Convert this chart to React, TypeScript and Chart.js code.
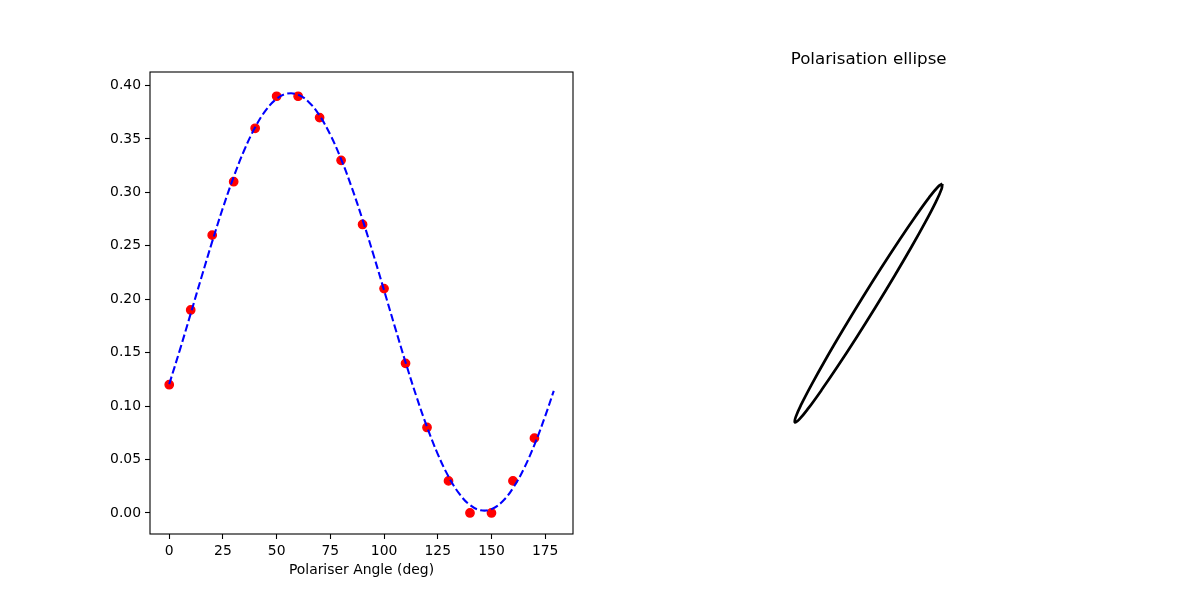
import { useEffect, useRef } from 'react';
import { Chart, registerables } from 'chart.js';

Chart.register(...registerables);
Chart.defaults.font.family = '"DejaVu Sans", sans-serif';
Chart.defaults.color = '#000';

// measured intensities
const angles = [0, 10, 20, 30, 40, 50, 60, 70, 80, 90, 100, 110, 120, 130, 140, 150, 160, 170];
const intensity = [0.12, 0.19, 0.26, 0.31, 0.36, 0.39, 0.39, 0.37, 0.33, 0.27, 0.21, 0.14, 0.08, 0.03, 0.0, 0.0, 0.03, 0.07];

// fitted curve (dashed)
const fitAngles = [
  0, 5, 10, 15, 20, 25, 30, 35, 40, 45, 50, 55, 60, 65, 70, 75, 80, 85, 90,
  95, 100, 105, 110, 115, 120, 125, 130, 135, 140, 145, 150, 155, 160, 165, 170, 175, 179,
];
const fitIntensity = [
  0.1206, 0.1529, 0.1866, 0.2206, 0.2539, 0.2856, 0.3145, 0.3399, 0.3609, 0.377, 0.3876, 0.3925,
  0.3914, 0.3845, 0.3718, 0.3539, 0.3312, 0.3044, 0.2744, 0.2421, 0.2084, 0.1744, 0.1411, 0.1094,
  0.0805, 0.0551, 0.0341, 0.018, 0.0074, 0.0025, 0.0036, 0.0105, 0.0232, 0.0411, 0.0638, 0.0906, 0.1143,
];

const xTicks = [0, 25, 50, 75, 100, 125, 150, 175];
const yTicks = [0, 0.05, 0.1, 0.15, 0.2, 0.25, 0.3, 0.35, 0.4];

// polarisation ellipse outline
const ellipseX = [
  0.3487, 0.3284, 0.2858, 0.2238, 0.1464, 0.059, -0.0323, -0.1214, -0.2024, -0.2694, -0.3182, -0.3452,
  -0.3487, -0.3284, -0.2858, -0.2238, -0.1464, -0.059, 0.0323, 0.1214, 0.2024, 0.2694, 0.3182, 0.3452, 0.3487,
];
const ellipseY = [
  0.5642, 0.5502, 0.4986, 0.413, 0.2994, 0.1653, 0.02, -0.1267, -0.2648, -0.3848, -0.4786, -0.5398,
  -0.5642, -0.5502, -0.4986, -0.413, -0.2994, -0.1653, -0.02, 0.1267, 0.2648, 0.3848, 0.4786, 0.5398, 0.5642,
];

const boxPlugin = {
  id: 'box',
  afterDraw(chart: Chart) {
    const { ctx, chartArea: a } = chart;
    ctx.save();
    ctx.strokeStyle = '#000';
    ctx.lineWidth = 1.1;
    ctx.strokeRect(a.left, a.top, a.right - a.left, a.bottom - a.top);
    ctx.restore();
  },
};

function IntensityChart() {
  const canvasRef = useRef<HTMLCanvasElement>(null);
  const chartRef = useRef<Chart | null>(null);

  useEffect(() => {
    if (!canvasRef.current) return;
    chartRef.current?.destroy();

    const tickFont = { size: 13.9 };

    chartRef.current = new Chart(canvasRef.current, {
      type: 'scatter',
      data: {
        datasets: [
          {
            label: 'fit',
            data: fitAngles.map((a, i) => ({ x: a, y: fitIntensity[i] })),
            showLine: true,
            borderColor: '#0000ff',
            borderWidth: 2.08,
            borderDash: [7.7, 3.3],
            pointRadius: 0,
            tension: 0.4,
          },
          {
            label: 'data',
            data: angles.map((a, i) => ({ x: a, y: intensity[i] })),
            backgroundColor: '#ff0000',
            borderColor: '#ff0000',
            borderWidth: 1.39,
            pointRadius: 4.17,
          },
        ],
      },
      options: {
        responsive: false,
        animation: false,
        layout: { padding: { left: 100, right: 27, top: 72, bottom: 0 } },
        plugins: { legend: { display: false }, tooltip: { enabled: false } },
        scales: {
          x: {
            type: 'linear',
            min: -8.95,
            max: 187.95,
            afterBuildTicks: (s) => {
              s.ticks = xTicks.map((v) => ({ value: v }));
            },
            afterFit: (s) => {
              s.height = 66;
            },
            ticks: { font: tickFont, padding: 4, maxRotation: 0, callback: (v) => String(v) },
            grid: { drawOnChartArea: false, tickLength: 5, tickColor: '#000', tickWidth: 1.1 },
            border: { display: false },
            title: {
              display: true,
              text: 'Polariser Angle (deg)',
              font: { size: 13.9 },
              padding: { top: 0, bottom: 21 },
            },
          },
          y: {
            type: 'linear',
            min: -0.0197,
            max: 0.4127,
            afterBuildTicks: (s) => {
              s.ticks = yTicks.map((v) => ({ value: v }));
            },
            afterFit: (s) => {
              s.width = 50;
            },
            ticks: { font: tickFont, padding: 4, callback: (v) => Number(v).toFixed(2) },
            grid: { drawOnChartArea: false, tickLength: 5, tickColor: '#000', tickWidth: 1.1 },
            border: { display: false },
          },
        },
      },
      plugins: [boxPlugin],
    });

    return () => {
      chartRef.current?.destroy();
      chartRef.current = null;
    };
  }, []);

  return (
    <canvas
      ref={canvasRef}
      width={600}
      height={600}
      style={{ position: 'absolute', left: 0, top: 0, width: 600, height: 600 }}
    />
  );
}

function EllipseChart() {
  const canvasRef = useRef<HTMLCanvasElement>(null);
  const chartRef = useRef<Chart | null>(null);

  useEffect(() => {
    if (!canvasRef.current) return;
    chartRef.current?.destroy();

    chartRef.current = new Chart(canvasRef.current, {
      type: 'scatter',
      data: {
        datasets: [
          {
            label: 'ellipse',
            data: ellipseX.map((x, i) => ({ x, y: ellipseY[i] })),
            showLine: true,
            borderColor: '#000',
            borderWidth: 2.7,
            pointRadius: 0,
            tension: 0.4,
          },
        ],
      },
      options: {
        responsive: false,
        animation: false,
        layout: { padding: { left: 57.3, right: 120, top: 50, bottom: 66 } },
        plugins: {
          legend: { display: false },
          tooltip: { enabled: false },
          title: {
            display: true,
            text: 'Polarisation ellipse',
            color: '#000',
            font: { size: 16.7, weight: 'normal' },
            padding: { top: 0, bottom: 2 },
          },
        },
        scales: {
          x: { type: 'linear', min: -1, max: 1, display: false },
          y: { type: 'linear', min: -1.0925, max: 1.0925, display: false },
        },
      },
    });

    return () => {
      chartRef.current?.destroy();
      chartRef.current = null;
    };
  }, []);

  return (
    <canvas
      ref={canvasRef}
      width={600}
      height={600}
      style={{ position: 'absolute', left: 600, top: 0, width: 600, height: 600 }}
    />
  );
}

export default function App() {
  return (
    <div style={{ position: 'fixed', left: 0, top: 0, width: 1200, height: 600, background: '#fff' }}>
      <IntensityChart />
      <EllipseChart />
    </div>
  );
}
